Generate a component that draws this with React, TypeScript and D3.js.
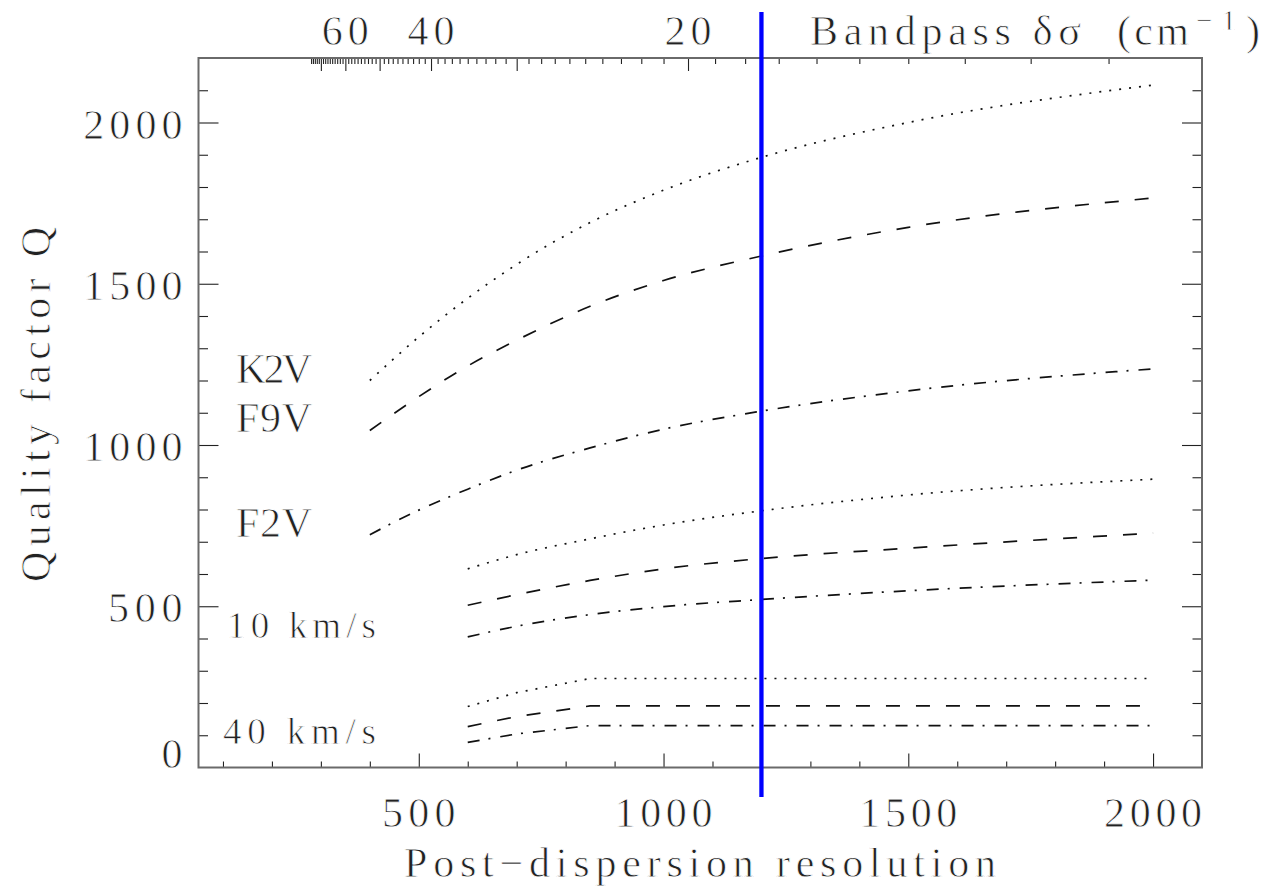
import React, { Component } from 'react';
import * as d3 from 'd3';

// post-dispersion resolution R where the curves were sampled
const resolutionStars = [400, 500, 600, 700, 850, 1000, 1200, 1500, 2000];
const resolutionRot = [600, 700, 850, 1000, 1200, 1500, 2000];

// quality factor Q
const qK2V = [1200, 1335, 1455, 1560, 1690, 1790, 1892, 2000, 2116];
const qF9V = [1045, 1150, 1245, 1325, 1430, 1510, 1586, 1675, 1766];
const qF2V = [722, 798, 863, 922, 991, 1049, 1105, 1168, 1236];
const q10Dot = [616, 660, 709, 752, 796, 845, 894];
const q10Dash = [503, 536, 580, 616, 648, 680, 727];
const q10DashDot = [405, 438, 474, 499, 521, 548, 581];
const q40Dot = [189, 232, 276, 276, 276, 276, 276];
const q40Dash = [127, 158, 191, 191, 191, 191, 191];
const q40DashDot = [78, 104, 130, 130, 130, 130, 130];

const starLabels = ['K2V', 'F9V', 'F2V'];
const rotLabels = ['10 km/s', '40 km/s'];

const xTickLabels = [500, 1000, 1500, 2000];
const yTickLabels = [0, 500, 1000, 1500, 2000];
const bandpassTickLabels = [60, 40, 20];
const bandpassTicks = d3.range(11, 76); // integer cm^-1
const SIGMA0 = 21000; // bandpass = SIGMA0 / R
const markedResolution = 1200;

const FONT = 'Liberation Serif';
const INK = '#222';

class QualityPlot extends Component {
    svgRef = React.createRef<SVGSVGElement>();
    width = 1275;
    height = 888;

    componentDidMount() {
        this.draw();
    }

    draw() {
        const svg = d3.select(this.svgRef.current);
        svg.selectAll('*').remove();

        const x = d3.scaleLinear().domain([50, 2100]).range([198.5, 1202]);
        const y = d3.scaleLinear().domain([0, 2200]).range([767.5, 58]);

        const DOT = '2 8', DASH = '14 16', DASHDOT = '12 9 2 10';
        const series = [
            { res: resolutionStars, q: qK2V, dash: DOT, smooth: true },
            { res: resolutionStars, q: qF9V, dash: DASH, smooth: true },
            { res: resolutionStars, q: qF2V, dash: DASHDOT, smooth: true },
            { res: resolutionRot, q: q10Dot, dash: DOT, smooth: true },
            { res: resolutionRot, q: q10Dash, dash: DASH, smooth: true },
            { res: resolutionRot, q: q10DashDot, dash: DASHDOT, smooth: true },
            { res: resolutionRot, q: q40Dot, dash: DOT, smooth: false },
            { res: resolutionRot, q: q40Dash, dash: DASH, smooth: false },
            { res: resolutionRot, q: q40DashDot, dash: DASHDOT, smooth: false },
        ];

        // ticks --------------------------------------------------------
        const minorX = d3.range(100, 2100, 100).filter(v => v % 500 !== 0);
        const minorY = d3.range(100, 2200, 100).filter(v => v % 500 !== 0);
        const majorY = d3.range(500, 2200, 500);

        const tickGroup = (axis, tx, ty) => {
            const g = svg.append('g')
                .attr('transform', `translate(${tx},${ty})`)
                .attr('color', INK)
                .call(axis.tickFormat(() => ''));
            g.select('.domain').remove();
            g.selectAll('line').attr('stroke-width', 1.1);
        };

        tickGroup(d3.axisTop(x).tickValues(minorX).tickSize(6), 0, y(0));
        tickGroup(d3.axisTop(x).tickValues(xTickLabels).tickSize(14), 0, y(0));
        tickGroup(d3.axisRight(y).tickValues(minorY).tickSize(9.5), x(50), 0);
        tickGroup(d3.axisRight(y).tickValues(majorY).tickSize(20), x(50), 0);
        tickGroup(d3.axisLeft(y).tickValues(minorY).tickSize(9.5), x(2100), 0);
        tickGroup(d3.axisLeft(y).tickValues(majorY).tickSize(20), x(2100), 0);

        const bandMinor = bandpassTicks.filter(d => d % 10 !== 0).map(d => SIGMA0 / d);
        const bandMajor = bandpassTicks.filter(d => d % 10 === 0).map(d => SIGMA0 / d);
        tickGroup(d3.axisBottom(x).tickValues(bandMinor).tickSize(6), 0, y(2200));
        tickGroup(d3.axisBottom(x).tickValues(bandMajor).tickSize(13), 0, y(2200));

        // frame
        svg.append('rect')
            .attr('x', x(50))
            .attr('y', y(2200))
            .attr('width', x(2100) - x(50))
            .attr('height', y(0) - y(2200))
            .attr('fill', 'none')
            .attr('stroke', '#6a6a6a')
            .attr('stroke-width', 2);

        // curves -------------------------------------------------------
        series.forEach(s => {
            const line = d3.line()
                .x(d => x(d[0]))
                .y(d => y(d[1]))
                .curve(s.smooth ? d3.curveMonotoneX : d3.curveLinear);
            svg.append('path')
                .datum(s.res.map((r, i) => [r, s.q[i]]))
                .attr('d', line)
                .attr('fill', 'none')
                .attr('stroke', '#111')
                .attr('stroke-width', 1.7)
                .attr('stroke-dasharray', s.dash);
        });

        // the blue marker at R = 1200
        svg.append('line')
            .attr('x1', x(markedResolution))
            .attr('x2', x(markedResolution))
            .attr('y1', 12)
            .attr('y2', 797)
            .attr('stroke', '#0000ff')
            .attr('stroke-width', 4.3);

        // text ---------------------------------------------------------
        // a thin white outline over the glyphs makes the serif strokes look lighter, like the original
        const txt = (s, tx, ty, size, anchor, len) => {
            const t = svg.append('text')
                .attr('x', tx)
                .attr('y', ty)
                .attr('font-family', FONT)
                .attr('font-size', size)
                .attr('fill', INK)
                .attr('stroke', '#fff')
                .attr('stroke-width', 0.8)
                .attr('text-anchor', anchor)
                .text(s);
            if (len) t.attr('textLength', len).attr('lengthAdjust', 'spacing');
            return t;
        };

        yTickLabels.forEach(v => {
            const base = Math.min(y(v) + 16, y(0) + 0.5);   // last label is kept inside
            const n = String(v).length;
            txt(String(v), 182.5, base, 42, 'end', n > 1 ? n * 24.8 : null);
        });
        xTickLabels.forEach(v => {
            const n = String(v).length;
            txt(String(v), x(v), 827, 42, 'middle', n * 24.5);
        });
        bandpassTickLabels.forEach(v => {
            txt(String(v), x(SIGMA0 / v), 45, 42, 'middle', 47);
        });

        const band = txt('', 810, 45, 42, 'start', null);
        band.append('tspan').text('Bandpass δσ').attr('textLength', 271).attr('lengthAdjust', 'spacing');
        band.append('tspan').attr('x', 1117).text('(cm').attr('textLength', 72).attr('lengthAdjust', 'spacing');
        band.append('tspan').attr('x', 1196).attr('y', 30).attr('font-size', 29).text('−1')
            .attr('textLength', 40).attr('lengthAdjust', 'spacing');
        band.append('tspan').attr('x', 1246).attr('y', 45).text(')');

        txt('Post−dispersion resolution', 700, 877, 42, 'middle', 592);
        txt('Quality factor Q', 0, 0, 42, 'middle', 355)
            .attr('transform', 'translate(50,404.5) rotate(-90)');

        [qK2V, qF9V, qF2V].forEach((q, i) => {
            txt(starLabels[i], 236, y(q[0]) + 2, 42, 'start', 76);
        });
        txt(rotLabels[0], 227, y(q10DashDot[0]) + 1.5, 37, 'start', 149);
        txt(rotLabels[1], 223, y(q40DashDot[0]) + 1.5, 37, 'start', 153);
    }

    render() {
        return (
            <svg ref={this.svgRef} width={this.width} height={this.height}
                style={{ position: 'absolute', left: 0, top: 0, background: '#fff' }}></svg>
        );
    }
}

export default function App() {
    return <QualityPlot />;
}
